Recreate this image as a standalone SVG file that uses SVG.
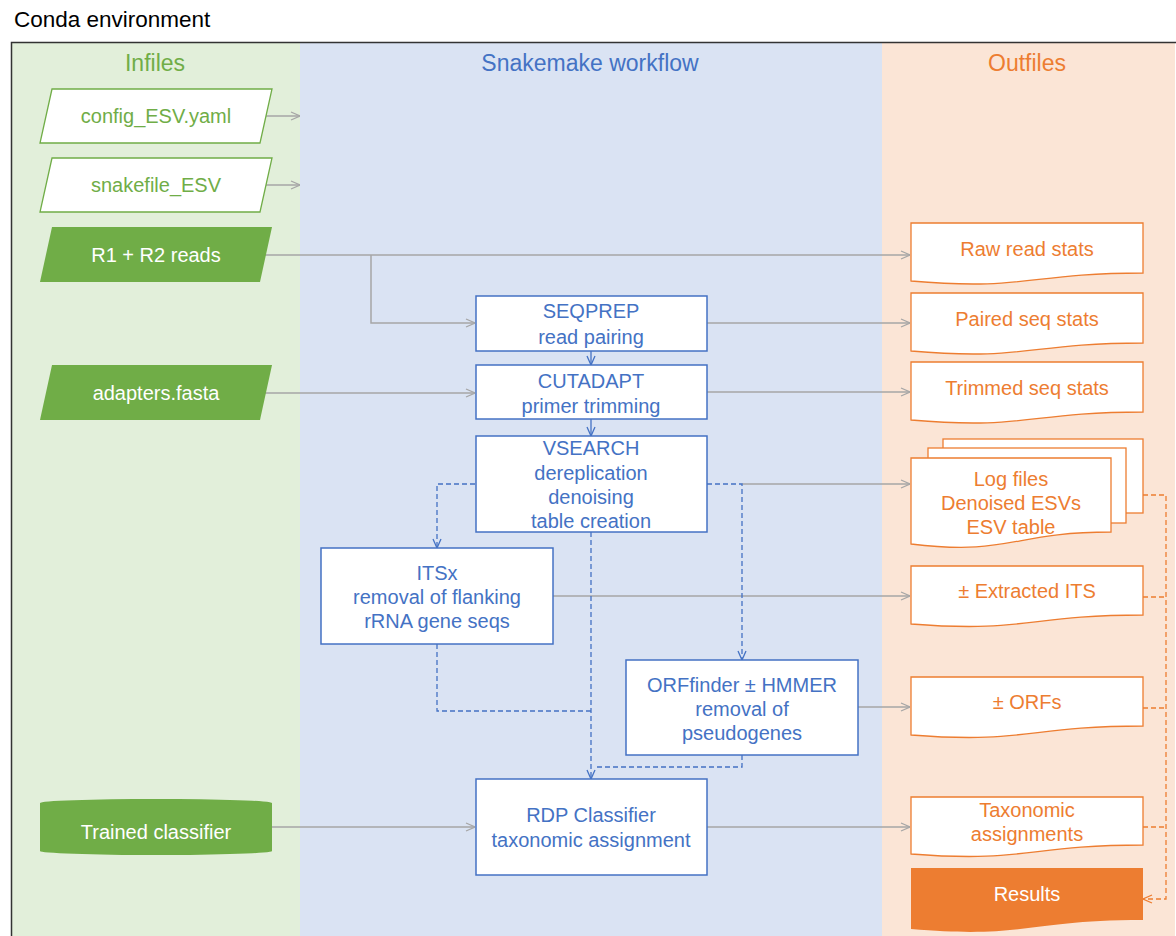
<svg xmlns="http://www.w3.org/2000/svg" width="1176" height="936" viewBox="0 0 1176 936">
<defs>
<style>
text{font-family:"Liberation Sans",Arial,sans-serif;text-anchor:middle}
.hdr{font-size:23px}
.g{fill:#70AD47}.b{fill:#4472C4}.o{fill:#ED7D31}.w{fill:#fff}
.t{font-size:20px}
.pin{fill:#fff;stroke:#70AD47;stroke-width:1.3}
.pfill{fill:#70AD47}
.proc{fill:#fff;stroke:#4472C4;stroke-width:1.5}
.doc{fill:#fff;stroke:#ED7D31;stroke-width:1.3}
.grey{fill:none;stroke:#A6A6A6;stroke-width:1.5}
.bl{fill:none;stroke:#4472C4;stroke-width:1.3}
.bd{fill:none;stroke:#4472C4;stroke-width:1.3;stroke-dasharray:5 3}
.od{fill:none;stroke:#ED7D31;stroke-width:1.3;stroke-dasharray:5 3}
</style>
<marker id="ag" viewBox="0 0 10 10" refX="10" refY="5" markerWidth="10" markerHeight="10" markerUnits="userSpaceOnUse" orient="auto"><path d="M1,1 L10,5 L1,9" fill="none" stroke="#A6A6A6" stroke-width="1.3"/></marker>
<marker id="ab" viewBox="0 0 10 10" refX="10" refY="5" markerWidth="10" markerHeight="10" markerUnits="userSpaceOnUse" orient="auto"><path d="M1,1 L10,5 L1,9" fill="none" stroke="#4472C4" stroke-width="1.3"/></marker>
<marker id="ao" viewBox="0 0 10 10" refX="10" refY="5" markerWidth="10" markerHeight="10" markerUnits="userSpaceOnUse" orient="auto"><path d="M1,1 L10,5 L1,9" fill="none" stroke="#ED7D31" stroke-width="1.3"/></marker>
</defs>
<rect width="1176" height="936" fill="#fff"/>
<text x="14" y="27" style="text-anchor:start;font-size:22.5px" fill="#000">Conda environment</text>
<g id="lanes">
<rect x="12" y="43" width="288" height="900" fill="#E2EFDA"/>
<rect x="300" y="43" width="582" height="900" fill="#DAE3F3"/>
<rect x="882" y="43" width="293" height="900" fill="#FBE5D6"/>
<rect x="11.5" y="42.5" width="1170" height="910" fill="none" stroke="#333" stroke-width="1.5"/>
<text class="hdr g" x="155" y="71">Infiles</text>
<text class="hdr b" x="590" y="71">Snakemake workflow</text>
<text class="hdr o" x="1027" y="71">Outfiles</text>
</g>
<g id="connectors">
<path class="grey" d="M266,116 H300" marker-end="url(#ag)"/>
<path class="grey" d="M266,185 H300" marker-end="url(#ag)"/>
<path class="grey" d="M263,255 H910" marker-end="url(#ag)"/>
<path class="grey" d="M371,255 V323 H475" marker-end="url(#ag)"/>
<path class="grey" d="M707,323 H910" marker-end="url(#ag)"/>
<path class="grey" d="M263,393 H475" marker-end="url(#ag)"/>
<path class="grey" d="M707,392 H910" marker-end="url(#ag)"/>
<path class="grey" d="M742,484 H910" marker-end="url(#ag)"/>
<path class="grey" d="M553,596 H910" marker-end="url(#ag)"/>
<path class="grey" d="M858,707 H910" marker-end="url(#ag)"/>
<path class="grey" d="M272,827 H475" marker-end="url(#ag)"/>
<path class="grey" d="M707,827 H910" marker-end="url(#ag)"/>
<path class="bl" d="M591,351 V365" marker-end="url(#ab)"/>
<path class="bl" d="M591,419 V436" marker-end="url(#ab)"/>
<path class="bd" d="M475,484 H437 V548" marker-end="url(#ab)"/>
<path class="bd" d="M707,484 H742 V660" marker-end="url(#ab)"/>
<path class="bd" d="M591,532 V779" marker-end="url(#ab)"/>
<path class="bd" d="M437,644 V711 H591"/>
<path class="bd" d="M742,755 V767 H594"/>
<path class="od" d="M1143,495 H1166 V899 H1143" marker-end="url(#ao)"/>
<path class="od" d="M1143,597 H1166"/>
<path class="od" d="M1143,708 H1166"/>
<path class="od" d="M1143,827 H1166"/>
</g>
<g id="config">
<path class="pin" d="M52,89 H272 L260,143 H40 Z"/>
<text class="t g" x="156" y="123">config_ESV.yaml</text>
</g>
<g id="snakefile">
<path class="pin" d="M52,158 H272 L260,212 H40 Z"/>
<text class="t g" x="156" y="192">snakefile_ESV</text>
</g>
<g id="reads">
<path class="pfill" d="M52,227 H272 L260,282 H40 Z"/>
<text class="t w" x="156" y="262">R1 + R2 reads</text>
</g>
<g id="adapters">
<path class="pfill" d="M52,365 H272 L260,420 H40 Z"/>
<text class="t w" x="156" y="400">adapters.fasta</text>
</g>
<g id="classifier">
<path class="pfill" d="M40,803 A116,4 0 0 1 272,803 V851 A116,4 0 0 1 40,851 Z"/>
<text class="t w" x="156" y="839">Trained classifier</text>
</g>
<g id="seqprep">
<rect class="proc" x="476" y="296" width="231" height="55"/>
<text class="t b" x="591" y="318">SEQPREP</text>
<text class="t b" x="591" y="344">read pairing</text>
</g>
<g id="cutadapt">
<rect class="proc" x="476" y="365" width="231" height="54"/>
<text class="t b" x="591" y="388">CUTADAPT</text>
<text class="t b" x="591" y="413">primer trimming</text>
</g>
<g id="vsearch">
<rect class="proc" x="476" y="436" width="231" height="96"/>
<text class="t b" x="591" y="455">VSEARCH</text>
<text class="t b" x="591" y="480">dereplication</text>
<text class="t b" x="591" y="504">denoising</text>
<text class="t b" x="591" y="528">table creation</text>
</g>
<g id="itsx">
<rect class="proc" x="321" y="548" width="232" height="96"/>
<text class="t b" x="437" y="580">ITSx</text>
<text class="t b" x="437" y="604">removal of flanking</text>
<text class="t b" x="437" y="628">rRNA gene seqs</text>
</g>
<g id="orffinder">
<rect class="proc" x="626" y="660" width="232" height="95"/>
<text class="t b" x="742" y="692">ORFfinder ± HMMER</text>
<text class="t b" x="742" y="716">removal of</text>
<text class="t b" x="742" y="740">pseudogenes</text>
</g>
<g id="rdp">
<rect class="proc" x="476" y="779" width="231" height="96"/>
<text class="t b" x="591" y="822">RDP Classifier</text>
<text class="t b" x="591" y="847">taxonomic assignment</text>
</g>
<g id="rawstats">
<path class="doc" d="M911,223 H1143 V273 C1027,273 1027,291 911,281 Z"/>
<text class="t o" x="1027" y="256">Raw read stats</text>
</g>
<g id="pairedstats">
<path class="doc" d="M911,293 H1143 V343 C1027,343 1027,361 911,351 Z"/>
<text class="t o" x="1027" y="326">Paired seq stats</text>
</g>
<g id="trimmedstats">
<path class="doc" d="M911,362 H1143 V412 C1027,412 1027,430 911,420 Z"/>
<text class="t o" x="1027" y="395">Trimmed seq stats</text>
</g>
<g id="logfiles">
<rect class="doc" x="943" y="439" width="200" height="74"/>
<rect class="doc" x="928" y="448" width="198" height="75"/>
<path class="doc" d="M911,458 H1111 V532 C1011,532 1011,556 911,544 Z"/>
<text class="t o" x="1011" y="486">Log files</text>
<text class="t o" x="1011" y="510">Denoised ESVs</text>
<text class="t o" x="1011" y="534">ESV table</text>
</g>
<g id="extractedits">
<path class="doc" d="M911,566 H1143 V615 C1027,615 1027,633 911,624 Z"/>
<text class="t o" x="1027" y="598">± Extracted ITS</text>
</g>
<g id="orfs">
<path class="doc" d="M911,677 H1143 V726 C1027,726 1027,744 911,735 Z"/>
<text class="t o" x="1027" y="709">± ORFs</text>
</g>
<g id="taxonomic">
<path class="doc" d="M911,797 H1143 V845 C1027,845 1027,863 911,854 Z"/>
<text class="t o" x="1027" y="817">Taxonomic</text>
<text class="t o" x="1027" y="841">assignments</text>
</g>
<g id="results">
<path d="M911,868 H1143 V920 C1027,920 1027,939 911,929 Z" fill="#ED7D31"/>
<text class="t w" x="1027" y="901">Results</text>
</g>
</svg>
